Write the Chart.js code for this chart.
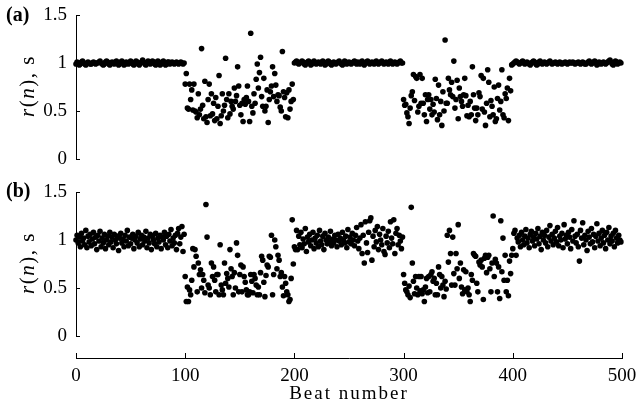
<!DOCTYPE html>
<html>
<head>
<meta charset="utf-8">
<script src="https://cdn.jsdelivr.net/npm/chart.js@4.4.1/dist/chart.umd.min.js"></script>
<style>
  html, body { margin: 0; padding: 0; background: #fff; }
  #wrap { position: relative; width: 637px; height: 414px; overflow: hidden; font-family: "Liberation Serif", "Times New Roman", serif; color: #000; }
  canvas { position: absolute; left: 0; }
  .panel { position: absolute; left: 6px; font-weight: bold; font-size: 20px; line-height: 23px; }
  .ylab { position: absolute; font-size: 21px; letter-spacing: 1.5px; white-space: nowrap; transform: translate(-50%, -50%) rotate(-90deg); }
  .xlab { position: absolute; left: 349px; top: 393px; transform: translate(-50%, -50%); font-size: 19px; letter-spacing: 2px; white-space: nowrap; }
</style>
</head>
<body>
<div id="wrap">
  <canvas id="chartA" width="637" height="175" style="top:0"></canvas>
  <canvas id="chartB" width="637" height="175" style="top:177px"></canvas>
  <canvas id="chartX" width="637" height="84" style="top:330px"></canvas>
  <div class="panel" style="top:3px">(a)</div>
  <div class="panel" style="top:179px">(b)</div>
  <div class="ylab" style="left:27px; top:86px"><i>r</i>(<i>n</i>), s</div>
  <div class="ylab" style="left:27px; top:263px"><i>r</i>(<i>n</i>), s</div>
  <div class="xlab">Beat number</div>
</div>
<script>
// Тики осей
const xTicks = [0, 100, 200, 300, 400, 500];
const yTicks = [0, 0.5, 1, 1.5];

// Панель (a): r(n) по отрезкам из 100 ударов
const aSeg1 = [
  0.99,1.01,1.00,0.98,0.99,1.01,1.02,1.00,0.99,0.98,
  1.00,1.01,1.00,0.99,0.99,1.00,1.01,1.00,0.99,1.00,
  1.00,1.01,1.02,1.00,0.99,0.98,0.99,1.01,1.02,1.01,
  0.99,0.98,1.00,1.01,1.00,0.99,1.01,1.02,1.00,0.98,
  0.99,1.01,1.02,1.00,0.98,0.99,1.01,1.00,0.99,1.00,
  1.02,1.01,0.99,0.98,1.00,1.02,1.01,0.99,0.98,1.00,
  1.01,1.03,1.01,0.99,0.98,1.00,1.02,1.01,0.99,1.00,
  1.02,1.01,0.99,0.98,1.01,1.02,1.00,0.98,0.99,1.01,
  1.02,1.00,0.98,0.99,1.01,1.01,0.99,1.00,1.01,1.00,
  0.99,1.00,1.01,1.00,0.99,1.00,1.01,1.00,0.99,1.00
];
const aSeg2 = [
  0.78,0.89,0.53,0.52,0.78,0.62,0.72,0.51,0.78,0.50,
  0.49,0.43,0.68,0.46,0.52,1.15,0.56,0.42,0.81,0.44,
  0.38,0.62,0.78,0.45,0.68,0.47,0.58,0.40,0.64,0.42,
  0.55,0.87,0.37,0.45,0.68,0.50,0.56,1.05,0.62,0.43,
  0.68,0.47,0.60,0.55,0.52,0.74,0.60,0.66,0.96,0.76,
  0.56,0.46,0.58,0.39,0.62,0.57,0.64,0.76,0.60,0.39,
  1.31,0.55,0.48,0.68,0.58,0.83,0.99,0.74,0.90,1.06,
  0.65,0.55,0.84,0.50,0.55,0.72,0.38,0.62,0.70,0.76,
  0.96,0.65,0.89,0.77,0.60,0.67,0.66,0.54,0.50,1.12,
  0.70,0.64,0.44,0.69,0.43,0.72,0.52,0.60,0.78,0.62
];
const aSeg3 = [
  1.00,1.01,1.02,1.00,0.99,1.00,1.01,1.02,1.01,0.99,
  0.98,1.00,1.01,1.02,1.00,0.98,0.99,1.01,1.02,1.00,
  0.99,1.00,1.01,1.00,0.99,1.01,1.02,1.00,0.98,0.99,
  1.01,1.02,1.01,0.99,0.98,1.00,1.01,1.00,0.99,1.00,
  1.01,1.02,1.00,0.99,0.98,1.00,1.02,1.01,0.99,1.00,
  1.01,1.00,0.99,1.00,1.01,1.02,1.00,0.99,1.01,1.00,
  0.99,1.01,1.02,1.00,0.98,1.00,1.01,1.02,1.00,0.99,
  1.00,1.01,1.00,0.99,1.01,1.02,1.00,0.99,1.00,1.01,
  1.02,1.00,0.99,1.00,1.01,1.00,0.99,1.01,1.02,1.00,
  0.99,1.00,1.01,1.00,0.99,1.00,1.01,1.02,1.00,1.00
];
const aSeg4 = [
  0.62,0.56,0.57,0.48,0.44,0.37,0.53,0.66,0.70,0.88,
  0.61,0.86,0.84,0.49,0.55,0.88,0.58,0.84,0.58,0.46,
  0.67,0.39,0.62,0.67,0.52,0.62,0.46,0.57,0.49,0.83,
  0.63,0.41,0.77,0.46,0.60,0.35,0.70,0.50,1.24,0.58,
  0.58,0.84,0.72,0.67,0.80,0.65,1.02,0.53,0.62,0.82,
  0.42,0.74,0.65,0.60,0.55,0.67,0.84,0.66,0.45,0.56,
  0.44,0.60,0.46,0.96,0.67,0.53,0.40,0.53,0.46,0.69,
  0.65,0.87,0.52,0.84,0.49,0.35,0.58,0.93,0.80,0.44,
  0.61,0.55,0.46,0.75,0.39,0.42,0.63,0.77,0.51,0.60,
  0.93,0.46,0.43,0.68,0.63,0.74,0.40,0.84,0.71,0.98
];
const aSeg5 = [
  0.99,1.00,1.01,1.02,1.01,1.00,0.99,1.00,1.01,1.02,
  1.00,0.99,1.00,1.01,1.00,0.99,0.98,1.00,1.01,1.02,
  1.01,0.99,0.98,0.99,1.01,1.02,1.00,0.99,1.00,1.01,
  1.00,0.99,1.00,1.01,1.02,1.00,0.99,1.00,1.00,1.01,
  1.00,0.99,1.00,1.01,1.00,0.99,1.00,1.00,1.01,1.00,
  0.99,1.00,1.01,1.00,1.00,1.01,1.00,0.99,1.00,1.00,
  1.01,1.00,0.99,1.00,1.01,1.00,0.99,0.99,1.00,1.01,
  1.02,1.00,0.99,1.00,1.01,1.02,1.00,0.98,0.99,1.01,
  1.00,0.99,1.00,1.01,1.00,0.99,1.00,1.01,1.02,1.03,
  1.01,0.99,0.98,1.00,1.02,1.01,0.99,1.00,1.01,1.00
];

// Панель (b)
const bSeg1 = [
  1.00,1.05,0.97,1.03,0.93,1.07,0.99,1.02,0.95,1.10,
  0.92,1.04,0.98,1.06,0.94,1.01,1.08,0.96,1.03,0.90,
  1.05,0.99,1.09,0.93,1.02,0.97,1.06,0.91,1.00,1.04,
  0.95,1.08,0.98,1.03,0.92,1.06,1.00,0.96,1.04,0.89,
  1.02,1.07,0.97,1.01,0.93,1.05,0.99,1.10,0.94,1.03,
  0.96,1.02,1.06,0.91,1.00,1.04,0.97,1.08,0.93,1.01,
  1.05,0.95,1.03,0.99,1.09,0.92,1.02,0.97,1.06,0.90,
  1.04,1.00,0.96,1.07,0.93,1.02,0.98,1.05,0.91,1.03,
  1.00,1.08,0.95,1.04,0.92,1.06,0.99,1.11,0.94,1.02,
  0.97,1.05,0.90,1.07,1.12,0.96,1.03,1.14,0.88,1.06
];
const bSeg2 = [
  0.62,0.36,0.51,0.36,0.48,0.43,0.58,0.91,0.72,0.90,
  0.83,0.46,0.76,0.64,0.69,0.50,0.64,0.58,0.45,1.37,
  1.03,0.53,0.50,0.43,0.76,0.62,0.72,0.58,0.46,0.64,
  0.64,0.43,0.95,0.53,0.48,0.43,0.76,0.55,0.65,0.60,
  0.51,0.90,0.70,0.62,0.43,0.66,0.50,0.97,0.84,0.46,
  0.64,0.74,0.46,0.72,0.62,0.56,0.48,0.43,0.43,0.46,
  0.64,0.57,0.45,0.64,0.60,0.53,0.43,0.51,0.43,0.66,
  0.83,0.79,0.56,0.41,0.63,0.74,0.72,0.83,0.82,1.05,
  0.43,0.64,1.00,0.93,0.70,0.84,0.79,0.62,0.66,0.51,
  0.42,0.62,0.55,0.46,0.43,0.36,0.38,0.60,1.21,0.75
];
const bSeg3 = [
  0.93,0.90,1.10,0.90,1.04,0.95,1.08,0.92,1.01,0.96,
  1.12,0.88,1.03,0.98,1.06,0.94,1.00,1.08,0.91,1.02,
  0.97,1.05,0.93,1.10,0.99,0.95,1.04,0.90,1.07,1.00,
  0.96,1.03,0.98,1.09,0.94,1.01,0.97,1.05,1.00,0.93,
  1.06,0.99,1.02,0.95,1.08,1.00,0.97,1.04,0.92,1.11,
  0.98,1.03,0.96,1.07,1.00,0.94,1.05,1.13,0.99,0.91,
  1.02,1.16,0.86,1.05,0.76,1.19,0.97,0.87,1.08,1.20,
  1.23,0.79,1.04,0.93,1.10,0.98,1.14,0.90,1.06,1.00,
  0.95,1.12,0.88,0.85,1.04,0.97,1.09,0.92,1.19,1.02,
  0.96,1.21,0.86,1.07,1.12,0.95,1.05,0.99,0.91,1.03
];
const bSeg4 = [
  0.64,0.55,0.48,0.46,0.43,0.52,0.40,1.34,0.76,0.57,
  0.44,0.62,0.50,0.43,0.62,0.47,0.62,0.44,0.48,0.36,
  0.51,0.60,0.45,0.62,0.46,0.64,0.67,0.57,0.60,0.43,
  0.55,0.43,0.72,0.64,0.50,0.62,0.53,0.41,0.57,0.49,
  1.05,0.77,1.10,0.86,0.53,1.03,0.65,0.53,0.86,0.70,
  1.16,0.60,0.76,0.51,0.44,0.69,0.48,0.67,0.46,0.50,
  0.43,0.36,0.64,0.58,0.86,0.84,0.83,0.55,0.46,0.77,
  0.74,0.79,0.72,0.38,0.81,0.84,0.66,0.82,0.84,0.70,
  0.46,0.76,1.25,0.62,0.80,0.76,0.46,0.72,0.39,1.20,
  0.67,1.02,0.58,0.84,0.46,0.58,0.42,0.78,0.65,0.84
];
const bSeg5 = [
  0.91,1.07,1.10,0.84,1.02,0.98,1.05,0.93,1.08,1.00,
  0.95,1.04,1.11,0.97,1.02,0.92,1.06,1.09,0.99,1.03,
  0.94,1.07,1.01,1.12,0.96,1.04,0.90,1.08,1.00,1.05,
  0.97,1.10,0.93,1.03,1.15,0.99,1.06,0.95,1.02,1.09,
  0.98,1.13,0.94,1.04,1.00,1.07,0.92,1.16,1.01,1.05,
  0.96,1.08,1.03,0.91,1.11,0.99,1.20,1.04,0.97,1.06,
  0.93,0.78,1.10,1.02,1.18,0.95,1.05,1.00,0.89,1.09,
  1.03,0.96,1.12,0.98,1.06,0.92,1.04,1.17,0.99,1.07,
  0.94,1.02,1.10,0.97,1.05,0.91,1.08,1.00,1.13,0.96,
  1.04,0.99,1.07,0.93,1.10,1.02,0.97,1.05,1.00,0.98
];

const rA = [...aSeg1, ...aSeg2, ...aSeg3, ...aSeg4, ...aSeg5];
const rB = [...bSeg1, ...bSeg2, ...bSeg3, ...bSeg4, ...bSeg5];
const beats = rA.map((_, i) => i);

// Засечки внутрь области графика (как в MATLAB)
const innerTicks = {
    id: 'innerTicks',
    beforeDatasetsDraw(chart, args, opts) {
        const ctx = chart.ctx;
        ctx.save();
        ctx.strokeStyle = '#000';
        ctx.lineWidth = 1;
        (opts.axes || []).forEach(id => {
            const s = chart.scales[id];
            s.ticks.forEach(t => {
                const p = Math.round(s.getPixelForValue(t.value)) + 0.5;
                ctx.beginPath();
                if (s.isHorizontal()) {
                    ctx.moveTo(p, s.top);
                    ctx.lineTo(p, s.top - opts.length);
                } else {
                    ctx.moveTo(s.right, p);
                    ctx.lineTo(s.right + opts.length, p);
                }
                ctx.stroke();
            });
        });
        ctx.restore();
    }
};

Chart.defaults.font.family = '"Liberation Serif", "Times New Roman", serif';
Chart.defaults.font.size = 19;
Chart.defaults.color = '#000';

function panelChart(id, values) {
    return new Chart(document.getElementById(id), {
        type: 'scatter',
        data: {
            datasets: [{
                data: values.map((v, i) => ({ x: beats[i], y: v })),
                backgroundColor: '#000',
                borderWidth: 0,
                pointRadius: 2.8,
                pointHoverRadius: 2.8,
                clip: false
            }]
        },
        options: {
            responsive: false,
            animation: false,
            events: [],
            layout: { autoPadding: false, padding: { top: 15, right: 15, bottom: 16, left: 0 } },
            plugins: {
                legend: { display: false },
                tooltip: { enabled: false },
                innerTicks: { axes: ['y'], length: 4 }
            },
            scales: {
                x: { type: 'linear', min: 0, max: 500, display: false },
                y: {
                    min: 0,
                    max: 1.5,
                    // фиксированная ширина оси и без лишних отступов сверху/снизу
                    afterFit: s => { s.width = 76; s.paddingTop = 0; s.paddingBottom = 0; },
                    afterBuildTicks: s => { s.ticks = yTicks.map(v => ({ value: v })); },
                    grid: { display: false, drawTicks: false },
                    border: { display: true, color: '#000', width: 1 },
                    ticks: { padding: 9, color: '#000', callback: v => String(v) }
                }
            }
        },
        plugins: [innerTicks]
    });
}

panelChart('chartA', rA);
panelChart('chartB', rB);

// Общая ось X внизу
new Chart(document.getElementById('chartX'), {
    type: 'scatter',
    data: { datasets: [] },
    options: {
        responsive: false,
        animation: false,
        events: [],
        layout: { autoPadding: false, padding: { top: 23, right: 15, bottom: 0, left: 76 } },
        plugins: {
            legend: { display: false },
            tooltip: { enabled: false },
            innerTicks: { axes: ['x'], length: 5 }
        },
        scales: {
            x: {
                type: 'linear',
                min: 0,
                max: 500,
                afterFit: s => { s.height = 56; s.paddingLeft = 0; s.paddingRight = 0; },
                afterBuildTicks: s => { s.ticks = xTicks.map(v => ({ value: v })); },
                grid: { display: false, drawTicks: false },
                border: { display: true, color: '#000', width: 1 },
                ticks: { padding: 7, color: '#000', maxRotation: 0, autoSkip: false }
            },
            y: { display: false, min: 0, max: 1 }
        }
    },
    plugins: [innerTicks]
});
</script>
</body>
</html>
